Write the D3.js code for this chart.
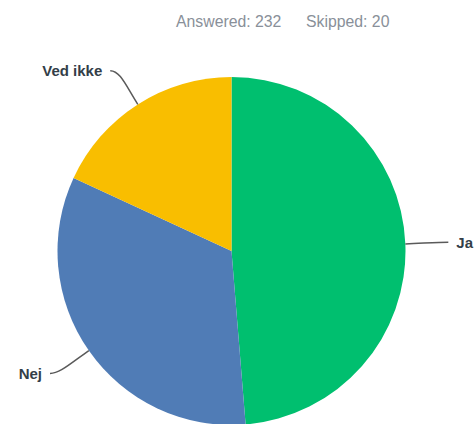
<!DOCTYPE html>
<html>
<head>
<meta charset="utf-8">
<script src="https://cdn.jsdelivr.net/npm/d3@7"></script>
<style>
  html, body { margin: 0; padding: 0; background: #fff; }
  svg { display: block; }
</style>
</head>
<body>
<svg id="chart" width="475" height="424"></svg>
<script>
// Survey response breakdown
const categories = ["Ja", "Nej", "Ved ikke"];
const counts = [113, 77, 42];
const colors = ["#00bf6f", "#507cb6", "#f9be00"];
const answered = 232;
const skipped = 20;

const width = 475, height = 424;
const cx = 231.5, cy = 251, radius = 174;
const fontFamily = "'Liberation Sans', Arial, Helvetica, sans-serif";

const svg = d3.select("#chart");

// Summary line at the top
const summary = svg.append("text")
  .attr("y", 27)
  .attr("font-family", fontFamily)
  .attr("font-size", 15.8)
  .attr("fill", "#899099");
summary.append("tspan").attr("x", 176).text(`Answered: ${answered}`);
summary.append("tspan").attr("x", 306).text(`Skipped: ${skipped}`);

const data = categories.map((c, i) => ({ label: c, value: counts[i], color: colors[i] }));

const pie = d3.pie().sort(null).value(d => d.value);
const arcs = pie(data);

const arc = d3.arc().innerRadius(0).outerRadius(radius);

const g = svg.append("g").attr("transform", `translate(${cx},${cy})`);

g.selectAll("path.slice")
  .data(arcs)
  .join("path")
  .attr("class", "slice")
  .attr("d", arc)
  .attr("fill", d => d.data.color);

// Connectors and labels
const labelR = radius + 40;
const pt = (a, r) => [Math.sin(a) * r, -Math.cos(a) * r];

arcs.forEach(d => {
  const mid = (d.startAngle + d.endAngle) / 2;
  const right = Math.sin(mid) >= 0;
  const dir = right ? 1 : -1;
  const [sx, sy] = pt(mid, radius);
  const [lx, ly] = pt(mid, labelR);
  const ex = lx + dir * (right ? 3 : 6), ey = ly;
  const [c1x, c1y] = pt(mid, radius + 22);
  const c2x = ex - dir * 10, c2y = ey;

  g.append("path")
    .attr("d", `M${sx},${sy} C${c1x},${c1y} ${c2x},${c2y} ${ex},${ey}`)
    .attr("fill", "none")
    .attr("stroke", "#5a5a5a")
    .attr("stroke-width", 1.5);

  g.append("text")
    .attr("x", ex + dir * 8)
    .attr("y", ey)
    .attr("dy", "0.35em")
    .attr("text-anchor", right ? "start" : "end")
    .attr("font-family", fontFamily)
    .attr("font-size", 15)
    .attr("font-weight", "bold")
    .attr("fill", "#333e48")
    .text(d.data.label);
});
</script>
</body>
</html>
